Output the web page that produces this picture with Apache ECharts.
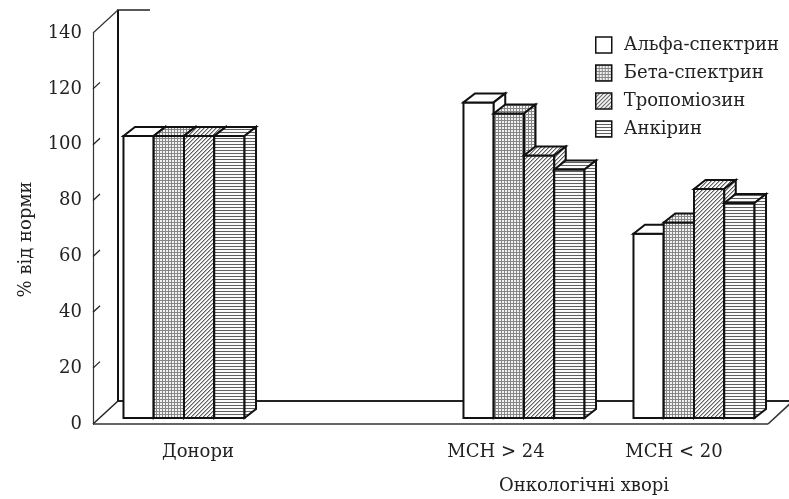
<!DOCTYPE html>
<html><head><meta charset="utf-8">
<script src="https://cdn.jsdelivr.net/npm/echarts@6/dist/echarts.min.js"></script>
<style>html,body{margin:0;padding:0;background:#fff}#c{width:789px;height:499px}</style>
</head><body><div id="c"></div>
<script>
// ---- data ----
var categories = ['Донори', '', 'MCH > 24', 'MCH < 20'];
var seriesNames = ['Альфа-спектрин', 'Бета-спектрин', 'Тропоміозин', 'Анкірин'];
var alphaSpectrin = [101, null, 113, 66];
var betaSpectrin  = [101, null, 109, 70];
var tropomyosin   = [101, null, 94, 82];
var ankyrin       = [101, null, 89, 77];
var yMin = 0, yMax = 140, yStep = 20;
var yAxisName = '% від норми';
var groupTitle = 'Онкологічні хворі';

// ---- patterns ----
function makePattern(kind) {
  if (kind === 'white') return '#ffffff';
  var cv = document.createElement('canvas');
  var ctx;
  if (kind === 'grid') {
    cv.width = 3; cv.height = 3; ctx = cv.getContext('2d');
    ctx.fillStyle = '#f2f2f2'; ctx.fillRect(0, 0, 3, 3);
    ctx.fillStyle = '#868686'; ctx.fillRect(0, 0, 3, 1); ctx.fillRect(0, 0, 1, 3);
  } else if (kind === 'diag') {
    cv.width = 4; cv.height = 4; ctx = cv.getContext('2d');
    ctx.fillStyle = '#fafafa'; ctx.fillRect(0, 0, 4, 4);
    ctx.fillStyle = '#5e5e5e';
    for (var i = 0; i < 4; i++) ctx.fillRect(3 - i, i, 1, 1);
    ctx.fillStyle = '#b4b4b4';
    for (var j = 0; j < 4; j++) ctx.fillRect((4 - j) % 4, j, 1, 1);
  } else if (kind === 'horiz') {
    cv.width = 4; cv.height = 3; ctx = cv.getContext('2d');
    ctx.fillStyle = '#fafafa'; ctx.fillRect(0, 0, 4, 3);
    ctx.fillStyle = '#5e5e5e'; ctx.fillRect(0, 0, 4, 1);
  }
  return { image: cv, repeat: 'repeat' };
}
var patterns = [makePattern('white'), makePattern('grid'), makePattern('diag'), makePattern('horiz')];
var allValues = [alphaSpectrin, betaSpectrin, tropomyosin, ankyrin];

var FONT = 'DejaVu Serif';

function barRenderer(k) {
  return function (params, api) {
    var cat = api.value(0), val = api.value(1);
    var band = api.size([1, 0])[0];
    var bw = band * 0.178;
    var base = api.coord([cat, 0]);
    var top = api.coord([cat, val]);
    var inX = 6, inY = 6, dX = 11.5, dY = 9;
    var L = base[0] - 2 * bw + k * bw + inX;
    var R = L + bw;
    var yb = base[1] - inY, yt = top[1] - inY;
    function st() { return { fill: patterns[k], stroke: '#111', lineWidth: 2, lineJoin: 'miter' }; }
    return {
      type: 'group',
      children: [
        { type: 'polygon', shape: { points: [[L, yb], [L, yt], [R, yt], [R, yb]] }, style: st() },
        { type: 'polygon', shape: { points: [[L, yt], [L + dX, yt - dY], [R + dX, yt - dY], [R, yt]] }, style: st() },
        { type: 'polygon', shape: { points: [[R, yt], [R + dX, yt - dY], [R + dX, yb - dY], [R, yb]] }, style: st() }
      ]
    };
  };
}

function frameRenderer(params, api) {
  var cs = params.coordSys;
  var x0 = cs.x, y0 = cs.y + cs.height, yT = cs.y;
  var dX = 25, dY = 23;
  var xr = cs.x + cs.width - 5;
  var ch = [];
  function line(x1, y1, x2, y2, w, c) {
    ch.push({ type: 'line', shape: { x1: x1, y1: y1, x2: x2, y2: y2 }, style: { stroke: c, lineWidth: w } });
  }
  for (var v = yMin + yStep; v < yMax; v += yStep) {
    var p = api.coord([0, v]);
    line(x0, p[1], x0 + 7, p[1] - 6.5, 1.3, '#222');
  }
  line(x0, yT, x0 + dX, yT - dY, 1.2, '#333');
  line(x0 + dX, yT - dY, x0 + dX, y0 - dY, 2, '#111');
  line(x0 + dX - 1, yT - dY, x0 + dX + 32, yT - dY, 1.5, '#222');
  line(x0, y0, x0 + dX, y0 - dY, 1.5, '#222');
  line(x0 + dX, y0 - dY, 800, y0 - dY, 2, '#222');
  line(x0, y0, xr, y0, 1.6, '#333');
  line(xr, y0, xr + dX, y0 - dY, 1.6, '#333');
  return { type: 'group', children: ch };
}

var series = [{
  type: 'custom', name: 'frame', silent: true, z: 1,
  data: [[0, 0]], encode: { x: 0, y: 1 },
  renderItem: frameRenderer
}];
seriesNames.forEach(function (n, k) {
  var d = [];
  allValues[k].forEach(function (v, i) { if (v !== null) d.push([i, v]); });
  series.push({
    type: 'custom', name: n, z: 2 + k,
    itemStyle: { color: patterns[k], borderColor: '#111', borderWidth: 1.5 },
    data: d, encode: { x: 0, y: 1 },
    renderItem: barRenderer(k)
  });
});

var chart = echarts.init(document.getElementById('c'), null, { renderer: 'canvas' });
chart.setOption({
  animation: false,
  backgroundColor: '#fff',
  title: {
    text: groupTitle, left: 499, top: 477, padding: 0,
    textStyle: { fontFamily: FONT, fontSize: 18, fontWeight: 'normal', color: '#222' }
  },
  legend: {
    orient: 'vertical', left: 590, top: 31, itemWidth: 16, itemHeight: 16, itemGap: 10,
    icon: 'rect',
    textStyle: { fontFamily: FONT, fontSize: 18, color: '#222', padding: [0, 0, 0, 7] },
    data: seriesNames.map(function (n, i) {
      return { name: n, itemStyle: { color: patterns[i], borderColor: '#111', borderWidth: 1.5 } };
    })
  },
  grid: { left: 93, top: 33, width: 680, height: 391, containLabel: false },
  xAxis: {
    type: 'category', data: categories,
    axisLine: { show: false }, axisTick: { show: false }, splitLine: { show: false },
    axisLabel: {
      margin: 19, interval: 0,
      fontFamily: FONT, fontSize: 18, color: '#222',
      formatter: function (v, i) { return '{l' + i + '|' + v + '}'; },
      rich: {
        l0: { fontFamily: FONT, fontSize: 18, color: '#222', padding: [0, 0, 0, 40] },
        l1: { fontFamily: FONT, fontSize: 18, color: '#222' },
        l2: { fontFamily: FONT, fontSize: 18, color: '#222', padding: [0, 44, 0, 0] },
        l3: { fontFamily: FONT, fontSize: 18, color: '#222', padding: [0, 28, 0, 0] }
      }
    }
  },
  yAxis: {
    type: 'value', min: yMin, max: yMax, interval: yStep,
    name: yAxisName, nameLocation: 'middle', nameGap: 58, nameRotate: 90,
    nameTextStyle: { fontFamily: FONT, fontSize: 18, color: '#222', padding: [0, 22, 0, 0] },
    axisLine: { show: true, lineStyle: { color: '#333', width: 1.2 } },
    axisTick: { show: false }, splitLine: { show: false },
    axisLabel: { margin: 11, fontFamily: FONT, fontSize: 18, color: '#222' }
  },
  series: series
});
</script>
</body></html>
